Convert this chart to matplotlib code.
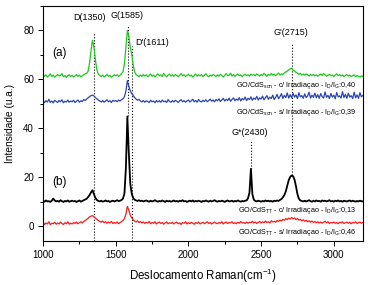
import numpy as np
import matplotlib
matplotlib.use("Agg")
import matplotlib.pyplot as plt
from matplotlib.ticker import MultipleLocator

plt.rcParams['font.family'] = ['Liberation Sans', 'DejaVu Sans']
plt.rcParams['mathtext.fontset'] = 'custom'
plt.rcParams['mathtext.rm'] = 'Liberation Sans'
plt.rcParams['mathtext.default'] = 'regular'

# Raman shift grid (cm-1), sampled every 10 cm-1
shift = np.arange(1000, 3201, 10)

son_irr = [
    62.1, 61.3, 61.9, 61.0, 61.6, 62.3, 61.2, 61.8, 60.9, 61.5,
    62.0, 61.4, 61.7, 62.4, 61.1, 61.6, 60.8, 61.5, 61.9, 61.2,
    61.7, 61.0, 61.4, 62.0, 61.3, 61.8, 61.1, 61.5, 61.9, 62.3,
    62.5, 63.4, 66.8, 71.9, 76.0, 73.2, 68.1, 64.0, 62.2, 61.6,
    61.2, 61.8, 61.0, 61.5, 62.1, 61.3, 61.7, 60.9, 61.4, 61.9,
    61.5, 61.9, 61.2, 61.8, 62.4, 63.2, 66.5, 73.5, 80.0, 77.6,
    73.2, 70.3, 66.0, 63.1, 62.0, 61.6, 61.1, 61.8, 61.3, 62.0,
    61.4, 61.9, 61.1, 61.6, 62.2, 61.3, 61.8, 61.0, 61.7, 62.3,
    61.5, 61.9, 61.2, 62.5, 61.6, 61.1, 61.8, 62.2, 61.4, 61.9,
    61.3, 62.0, 61.6, 61.1, 61.8, 62.4, 61.5, 61.9, 61.2, 61.7,
    62.1, 61.4, 61.8, 61.0, 61.6, 62.2, 61.3, 61.9, 61.5, 62.0,
    61.2, 61.7, 62.3, 61.5, 61.1, 61.8, 61.4, 62.0, 61.6, 61.2,
    61.9, 61.3, 62.1, 61.6, 61.0, 61.7, 62.4, 61.5, 61.8, 62.6,
    61.4, 62.0, 61.3, 61.8, 62.2, 61.5, 61.9, 61.2, 61.7, 62.1,
    61.6, 61.9, 61.4, 62.2, 61.7, 62.0, 61.5, 62.3, 61.8, 61.4,
    62.0, 61.6, 62.5, 61.9, 61.3, 62.1, 61.7, 62.4, 61.8, 62.2,
    61.5, 62.0, 62.6, 61.8, 62.3, 62.0, 62.7, 63.0, 63.4, 63.9,
    64.3, 64.6, 63.8, 63.5, 62.9, 62.6, 62.1, 62.5, 61.8, 62.2,
    61.7, 62.3, 61.9, 61.4, 62.1, 61.6, 62.0, 61.5, 61.9, 61.3,
    61.8, 62.2, 61.6, 62.4, 61.9, 61.3, 61.7, 62.1, 61.5, 61.8,
    61.2, 61.9, 62.3, 61.6, 62.0, 61.4, 61.8, 61.1, 61.6, 62.0,
    61.4, 61.8, 61.2, 61.5, 61.9, 61.1, 61.6, 61.3, 61.0, 61.5,
    61.3,
]

son_dark = [
    51.6, 50.5, 51.3, 50.8, 51.9, 50.6, 51.2, 50.4, 51.5, 51.0,
    50.6, 51.4, 50.9, 51.7, 50.5, 51.1, 50.8, 51.6, 50.7, 51.2,
    50.9, 51.5, 50.6, 51.1, 51.6, 50.7, 51.3, 51.0, 51.8, 51.4,
    52.0, 52.5, 53.0, 53.4, 53.6, 53.3, 52.6, 52.1, 51.6, 51.2,
    50.8, 51.4, 50.7, 51.2, 51.7, 50.9, 51.3, 50.6, 51.5, 51.1,
    51.4, 50.9, 51.6, 51.2, 51.8, 52.1, 53.0, 55.3, 59.5, 57.2,
    55.4, 54.3, 53.5, 52.6, 52.0, 51.5, 51.9, 51.2, 50.8, 51.4,
    50.7, 51.3, 51.0, 50.6, 51.5, 50.9, 51.2, 50.5, 51.4, 50.8,
    51.3, 50.7, 51.6, 50.9, 51.2, 50.6, 51.8, 51.0, 50.7, 51.4,
    50.8, 51.5, 51.1, 50.6, 51.3, 51.7, 50.9, 51.4, 50.7, 51.2,
    51.6, 50.8, 51.3, 51.9, 50.9, 51.4, 50.7, 51.8, 51.1, 50.8,
    51.5, 51.0, 51.7, 50.9, 51.4, 52.0, 51.1, 51.6, 50.9, 51.8,
    51.3, 52.1, 51.0, 51.6, 52.3, 51.2, 51.9, 51.4, 52.4, 51.1,
    51.8, 52.5, 51.3, 52.0, 51.5, 52.6, 51.2, 52.2, 51.7, 52.8,
    51.4, 52.3, 51.8, 52.9, 51.5, 52.4, 51.9, 53.1, 51.6, 52.5,
    52.0, 53.2, 51.7, 52.6, 53.4, 51.9, 52.8, 52.2, 53.6, 51.8,
    52.7, 53.9, 52.1, 53.0, 54.2, 52.3, 53.5, 52.6, 54.5, 52.4,
    53.8, 52.5, 54.3, 52.8, 53.7, 52.2, 54.6, 52.9, 53.4, 52.3,
    54.1, 52.6, 53.3, 54.8, 52.4, 53.6, 52.7, 54.4, 52.5, 53.8,
    52.3, 54.2, 53.0, 52.4, 54.9, 52.7, 53.5, 52.2, 54.3, 52.8,
    53.6, 52.1, 54.7, 52.9, 53.3, 52.4, 55.0, 52.6, 53.9, 52.3,
    54.4, 52.8, 53.4, 52.2, 54.8, 52.5, 53.7, 52.3, 54.6, 52.9,
    53.5,
]

tt_irr = [
    10.4, 10.1, 10.6, 10.2, 10.3, 10.0, 10.5, 11.4, 10.6, 10.2,
    10.4, 10.1, 10.7, 10.3, 10.0, 10.4, 10.2, 10.6, 10.1, 10.3,
    10.5, 10.2, 10.4, 10.0, 10.3, 10.6, 10.1, 10.4, 10.7, 11.0,
    11.3, 12.0, 12.8, 13.9, 14.8, 13.2, 11.6, 10.8, 10.4, 10.2,
    10.5, 10.1, 10.3, 10.6, 10.2, 10.4, 10.0, 10.3, 10.5, 10.2,
    10.4, 10.7, 10.3, 10.5, 10.8, 11.4, 13.5, 24.0, 44.9, 30.0,
    17.5, 13.4, 11.6, 10.9, 10.6, 10.4, 10.7, 10.3, 10.5, 10.2,
    10.4, 10.6, 10.3, 10.1, 10.5, 10.2, 10.4, 10.7, 10.3, 10.1,
    10.4, 10.2, 10.6, 10.3, 10.0, 10.5, 10.2, 10.4, 10.1, 10.3,
    10.6, 10.2, 10.4, 10.1, 10.5, 10.3, 10.7, 10.2, 10.4, 10.0,
    10.3, 10.5, 10.2, 10.6, 10.1, 10.4, 10.2, 10.5, 10.3, 10.0,
    10.4, 10.2, 10.6, 10.3, 10.1, 10.5, 10.2, 10.4, 10.7, 10.3,
    10.1, 10.4, 10.2, 10.5, 10.3, 10.0, 10.4, 10.6, 10.2, 10.3,
    10.5, 10.1, 10.4, 10.2, 10.6, 10.3, 10.1, 10.4, 10.2, 10.5,
    10.6, 11.5, 13.8, 23.5, 13.2, 10.9, 10.4, 10.2, 10.5, 10.3,
    10.1, 10.4, 10.2, 10.6, 10.3, 10.5, 10.2, 10.4, 10.1, 10.5,
    10.3, 10.6, 10.4, 10.8, 11.2, 11.9, 12.8, 14.3, 16.6, 18.9,
    20.2, 20.8, 20.5, 19.1, 16.4, 13.2, 11.3, 10.6, 10.4, 10.2,
    10.5, 10.2, 10.4, 10.7, 10.3, 10.1, 10.5, 10.2, 10.6, 10.3,
    10.4, 10.1, 10.6, 10.3, 10.5, 10.2, 10.4, 10.7, 10.2, 10.4,
    10.1, 10.5, 10.3, 10.6, 10.2, 10.4, 10.1, 10.5, 10.3, 10.2,
    10.4, 10.6, 10.2, 10.5, 10.3, 10.1, 10.4, 10.2, 10.5, 10.3,
    10.2,
]

tt_dark = [
    1.6, 0.8, 1.4, 1.0, 1.9, 0.7, 1.3, 1.1, 1.7, 0.9,
    1.4, 1.0, 1.8, 1.2, 0.8, 1.5, 1.1, 1.9, 0.9, 1.3,
    1.0, 1.6, 1.2, 1.8, 1.1, 1.5, 1.9, 1.4, 2.0, 2.4,
    2.8, 3.3, 3.9, 4.2, 4.4, 4.0, 3.4, 2.9, 2.4, 2.0,
    1.7, 2.2, 1.5, 1.9, 1.3, 1.8, 1.4, 2.0, 1.2, 1.6,
    1.3, 1.8, 1.1, 1.6, 2.0, 2.4, 3.2, 5.0, 8.2, 6.6,
    4.6, 3.5, 2.7, 2.2, 1.8, 2.3, 1.6, 2.0, 1.4, 1.8,
    1.2, 1.7, 1.4, 2.0, 1.1, 1.6, 1.3, 1.9, 1.0, 1.5,
    1.8, 1.2, 1.6, 0.9, 1.4, 1.9, 1.1, 1.5, 1.2, 1.7,
    1.0, 1.5, 1.8, 1.1, 1.4, 0.8, 1.6, 1.3, 1.9, 1.0,
    1.5, 1.1, 1.7, 1.3, 0.9, 1.6, 1.2, 1.8, 1.0, 1.4,
    1.7, 1.1, 1.5, 1.9, 1.2, 1.6, 1.0, 1.4, 1.8, 1.3,
    1.1, 1.6, 1.3, 1.9, 1.0, 1.5, 1.8, 1.2, 1.6, 1.4,
    1.9, 1.2, 1.5, 1.1, 1.7, 1.3, 2.0, 1.4, 1.6, 1.2,
    1.8, 1.3, 1.7, 1.5, 2.1, 1.4, 1.8, 1.2, 1.6, 2.0,
    1.4, 1.9, 1.5, 2.2, 1.6, 1.9, 1.4, 2.3, 1.8, 2.1,
    1.7, 2.4, 2.0, 2.6, 2.2, 2.9, 2.5, 3.2, 2.8, 3.4,
    3.0, 3.6, 3.1, 3.5, 2.8, 3.2, 2.6, 2.9, 2.3, 2.7,
    2.1, 2.5, 1.9, 2.3, 1.7, 2.2, 1.6, 2.0, 1.5, 1.9,
    1.4, 1.8, 1.3, 1.7, 2.1, 1.5, 1.9, 1.2, 1.6, 1.4,
    1.8, 1.3, 1.6, 1.1, 1.7, 1.4, 1.9, 1.2, 1.5, 1.8,
    1.3, 1.7, 1.1, 1.6, 1.4, 1.9, 1.2, 1.5, 1.8, 1.3,
    1.6,
]

# band markers: (position, top of dotted line, bottom of dotted line)
bands = [(1350, 79, -6), (1585, 82, 45), (1611, 73.5, -6),
         (2430, 35, 23.5), (2715, 75, 21)]

fig = plt.figure(figsize=(3.68, 2.85), dpi=100)
ax = fig.add_axes([0.117, 0.154, 0.869, 0.825])

for pos, top, bot in bands:
    ax.plot([pos, pos], [bot, top], 'k:', lw=0.8)

ax.plot(shift, son_irr, color='#1ec81e', lw=0.9)
ax.plot(shift, son_dark, color='#2a45b0', lw=0.9)
ax.plot(shift, tt_irr, color='k', lw=1.3)
ax.plot(shift, tt_dark, color='#ff1a1a', lw=0.9)

ax.text(1322, 85.3, 'D(1350)', fontsize=6.5, ha='center', va='center')
ax.text(1578, 86, 'G(1585)', fontsize=6.5, ha='center', va='center')
ax.text(1637, 75, "D'(1611)", fontsize=6.5, ha='left', va='center')
ax.text(2705, 79, "G'(2715)", fontsize=6.5, ha='center', va='center')
ax.text(2425, 38.4, 'G*(2430)', fontsize=6.5, ha='center', va='center')
ax.text(1116, 70.6, '(a)', fontsize=8.5, ha='center', va='center')
ax.text(1116, 18, '(b)', fontsize=8.5, ha='center', va='center')

ax.text(3160, 57.5, r'GO/CdS$_{son}$ - c/ Irradiaçao - I$_D$/I$_G$:0,40',
        fontsize=5.2, ha='right', va='center')
ax.text(3160, 46.5, r'GO/CdS$_{son}$ - s/ Irradiaçao - I$_D$/I$_G$:0,39',
        fontsize=5.2, ha='right', va='center')
ax.text(3160, 6.5, r'GO/CdS$_{TT}$ - c/ Irradiaçao - I$_D$/I$_G$:0,13',
        fontsize=5.2, ha='right', va='center')
ax.text(3160, -2.4, r'GO/CdS$_{TT}$ - s/ Irradiaçao - I$_D$/I$_G$:0,46',
        fontsize=5.2, ha='right', va='center')

ax.set_xlim(1000, 3200)
ax.set_ylim(-6, 90)
ax.xaxis.set_major_locator(MultipleLocator(500))
ax.xaxis.set_minor_locator(MultipleLocator(250))
ax.yaxis.set_major_locator(MultipleLocator(20))
ax.yaxis.set_minor_locator(MultipleLocator(10))
ax.tick_params(which='both', direction='out', top=False, right=False, labelsize=7)
ax.tick_params(which='major', length=3.5, width=0.7, pad=3)
ax.tick_params(which='minor', length=2, width=0.7)
for s in ax.spines.values():
    s.set_linewidth(0.8)

ax.set_xlabel(r'Deslocamento Raman(cm$^{-1}$)', fontsize=8.3, labelpad=5)
ax.set_ylabel('Intensidade (u.a.)', fontsize=7.3, labelpad=6)

fig.savefig('out.png', dpi=100)
